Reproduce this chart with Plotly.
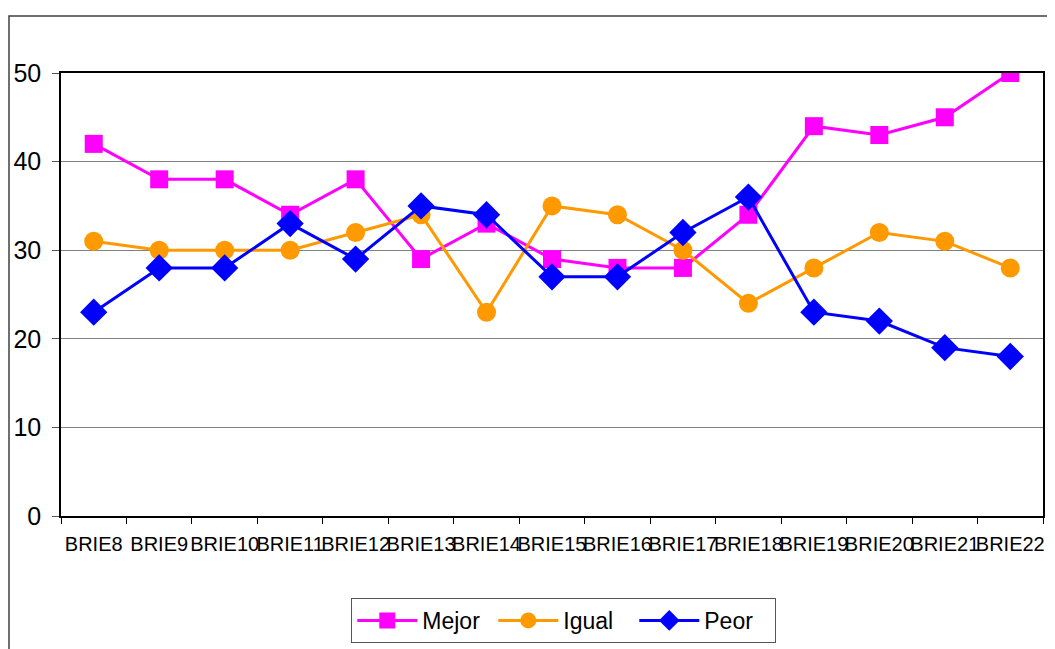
import plotly.graph_objects as go

categories = ["BRIE8", "BRIE9", "BRIE10", "BRIE11", "BRIE12", "BRIE13", "BRIE14", "BRIE15",
              "BRIE16", "BRIE17", "BRIE18", "BRIE19", "BRIE20", "BRIE21", "BRIE22"]
mejor = [42, 38, 38, 34, 38, 29, 33, 29, 28, 28, 34, 44, 43, 45, 50]
igual = [31, 30, 30, 30, 32, 34, 23, 35, 34, 30, 24, 28, 32, 31, 28]
peor = [23, 28, 28, 33, 29, 35, 34, 27, 27, 32, 36, 23, 22, 19, 18]
y_ticks = [0, 10, 20, 30, 40, 50]

fig = go.Figure()
fig.add_trace(go.Scatter(x=categories, y=mejor, name="Mejor", mode="lines+markers",
                         line=dict(color="#FF00FF", width=3),
                         marker=dict(symbol="square", size=18, color="#FF00FF")))
fig.add_trace(go.Scatter(x=categories, y=igual, name="Igual", mode="lines+markers",
                         line=dict(color="#FF9900", width=3),
                         marker=dict(symbol="circle", size=19, color="#FF9900")))
fig.add_trace(go.Scatter(x=categories, y=peor, name="Peor", mode="lines+markers",
                         line=dict(color="#0000FF", width=3),
                         marker=dict(symbol="diamond", size=21, color="#0000FF")))

fig.update_layout(
    width=1055, height=649,
    margin=dict(l=53, r=20, t=65, b=141, autoexpand=False),
    paper_bgcolor="white", plot_bgcolor="white",
    font=dict(family="Liberation Sans, Arial, sans-serif", color="black"),
    showlegend=True,
    legend=dict(orientation="h", x=0.512, xanchor="center", y=-0.185, yanchor="top",
                bordercolor="#555555", borderwidth=1, font=dict(size=23),
                entrywidth=66, itemwidth=60),
    xaxis=dict(type="category", range=[-0.5, 14.5], tickson="boundaries",
               ticks="outside", ticklen=6, tickcolor="black", tickangle=0,
               automargin=False, ticklabelstandoff=9,
               showline=True, linecolor="black", linewidth=1.5, mirror=True,
               showgrid=False,
               tickfont=dict(size=20, family="Liberation Sans Narrow, Liberation Sans, Arial")),
    yaxis=dict(range=[0, 50], tickvals=y_ticks, ticks="outside", ticklen=7,
               tickcolor="#555555", showline=True, linecolor="black", linewidth=1.5,
               mirror=True, showgrid=True, gridcolor="#808080", gridwidth=1,
               zeroline=False, tickfont=dict(size=25), ticklabelstandoff=6,
               automargin=False),
    shapes=[dict(type="rect", xref="paper", yref="paper",
                 x0=(8 - 60) / 982, x1=1.2, y0=-0.6, y1=(515 - 15) / 443,
                 line=dict(color="#404040", width=1.5), fillcolor="rgba(0,0,0,0)",
                 layer="below")],
)

fig.write_html("out.html")
